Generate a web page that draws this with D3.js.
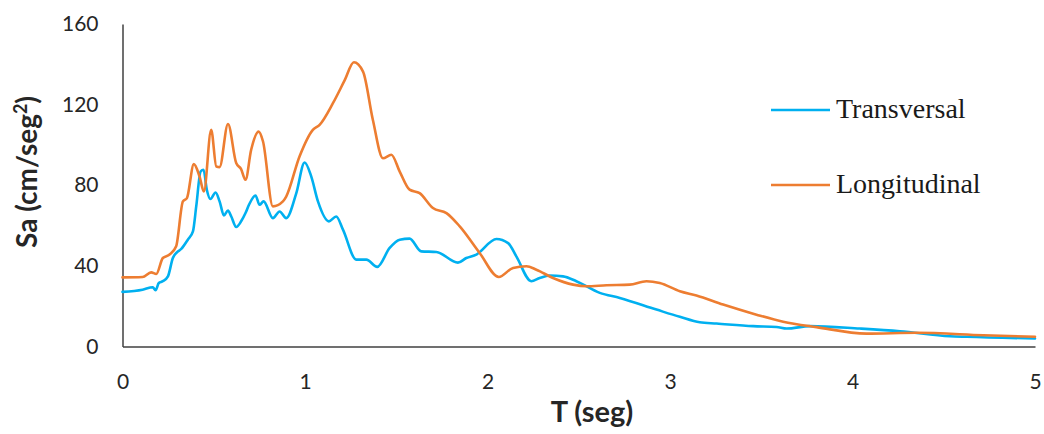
<!DOCTYPE html>
<html>
<head>
<meta charset="utf-8">
<script src="https://cdn.jsdelivr.net/npm/d3@7"></script>
<style>
  html, body { margin: 0; padding: 0; background: #fff; }
  svg { display: block; }
</style>
</head>
<body>
<svg id="chart" width="1044" height="434"></svg>
<script>
// Period (s) and spectral acceleration (cm/s²) for each direction
const transT = [0, 0.11, 0.166, 0.181, 0.199, 0.221, 0.249, 0.276, 0.298, 0.322, 0.358, 0.386, 0.404, 0.428, 0.444, 0.462, 0.482, 0.51, 0.532, 0.556, 0.578, 0.596, 0.623, 0.65, 0.674, 0.693, 0.729, 0.751, 0.773, 0.824, 0.861, 0.897, 0.952, 0.998, 1.034, 1.071, 1.131, 1.171, 1.208, 1.281, 1.336, 1.396, 1.464, 1.519, 1.573, 1.637, 1.72, 1.838, 1.884, 1.939, 2.049, 2.113, 2.158, 2.24, 2.286, 2.341, 2.414, 2.487, 2.615, 2.725, 2.926, 3.054, 3.163, 3.255, 3.456, 3.584, 3.639, 3.766, 4.04, 4.26, 4.534, 4.625, 5.0];
const transSa = [27.1, 28.2, 29.4, 27.9, 31.5, 32.4, 34.8, 43.9, 46.7, 48.4, 53, 57.1, 69.5, 86.8, 87.7, 77.8, 73.2, 76.4, 72, 65, 67.5, 64.5, 59.3, 62.1, 66.2, 70.3, 74.9, 70.3, 72, 63.7, 67, 63.7, 76, 91.3, 84.4, 72, 62.1, 64.5, 58, 43.1, 43.1, 39.5, 48.9, 53, 53.5, 47.2, 46.9, 41.6, 43.9, 45.6, 53.3, 51.3, 44.7, 32.4, 34, 35.2, 34.8, 32.4, 26.6, 24.1, 18.3, 14.7, 12, 11.4, 10.1, 9.7, 8.9, 10.1, 8.9, 7.6, 5.1, 4.8, 4.0];

const longT = [0, 0.11, 0.157, 0.185, 0.221, 0.258, 0.294, 0.331, 0.353, 0.391, 0.422, 0.446, 0.486, 0.514, 0.532, 0.578, 0.623, 0.65, 0.674, 0.705, 0.746, 0.77, 0.824, 0.879, 0.897, 0.97, 1.043, 1.08, 1.153, 1.217, 1.268, 1.318, 1.372, 1.427, 1.473, 1.519, 1.573, 1.628, 1.701, 1.775, 1.848, 1.957, 2.062, 2.14, 2.213, 2.268, 2.359, 2.469, 2.542, 2.652, 2.779, 2.871, 2.944, 3.054, 3.145, 3.291, 3.474, 3.62, 3.803, 4.077, 4.351, 4.717, 5.0];
const longSa = [34.3, 34.5, 36.8, 36, 43.9, 45.6, 49.7, 72, 73.6, 90.5, 84.4, 76.9, 107.5, 89.3, 89, 110.4, 91, 88, 82.7, 97.6, 106.6, 101.7, 69.5, 72, 74.4, 94.3, 107.5, 110, 120.7, 132, 141, 136.4, 112.4, 93.4, 95.1, 86.8, 77.8, 76.1, 68.7, 66.2, 59.6, 46.4, 34.5, 39, 39.8, 38.1, 34, 30.7, 29.9, 30.4, 30.7, 32.4, 31.5, 27.4, 25.3, 20.8, 15.8, 12.3, 9.6, 6.4, 6.8, 5.6, 4.8];

const xTicks = [0, 1, 2, 3, 4, 5];
const yTicks = [0, 40, 80, 120, 160];
const seriesNames = ["Transversal", "Longitudinal"];
const seriesColors = ["#00B0F0", "#ED7D31"];

const svg = d3.select("#chart");
const x = d3.scaleLinear().domain([0, 5]).range([122.5, 1035]);
const y = d3.scaleLinear().domain([0, 160]).range([346.5, 24]);

const sansFont = "Lato, 'Open Sans', sans-serif";
const serifFont = "'Liberation Serif', 'DejaVu Serif', serif";

// Axes (no tick marks, labels only)
const xAxis = d3.axisBottom(x).tickValues(xTicks).tickSize(0).tickPadding(28).tickFormat(d3.format("d"));
const yAxis = d3.axisLeft(y).tickValues(yTicks).tickSize(0).tickPadding(24).tickFormat(d3.format("d"));

const gx = svg.append("g").attr("transform", `translate(0,${y(0)})`).call(xAxis);
const gy = svg.append("g").attr("transform", `translate(${x(0)},0)`).call(yAxis);

[gx, gy].forEach(g => {
  g.select(".domain").attr("stroke", "#404040").attr("stroke-width", 1.5);
  g.selectAll("text")
    .attr("fill", "#262626")
    .style("font-family", sansFont)
    .style("font-size", "21px");
});

// Series lines
const line = d3.line()
  .x(d => x(d[0]))
  .y(d => y(d[1]))
  .curve(d3.curveMonotoneX);

const series = [
  transT.map((t, i) => [t, transSa[i]]),
  longT.map((t, i) => [t, longSa[i]])
];

series.forEach((pts, i) => {
  svg.append("path")
    .datum(pts)
    .attr("fill", "none")
    .attr("stroke", seriesColors[i])
    .attr("stroke-width", 2.6)
    .attr("stroke-linejoin", "round")
    .attr("stroke-linecap", "round")
    .attr("d", line);
});

// Axis titles
svg.append("text")
  .attr("x", 592)
  .attr("y", 422)
  .attr("text-anchor", "middle")
  .attr("fill", "#262626")
  .style("font-family", sansFont)
  .style("font-weight", "bold")
  .style("font-size", "29px")
  .text("T (seg)");

const yTitle = svg.append("text")
  .attr("transform", "translate(37,172) rotate(-90)")
  .attr("text-anchor", "middle")
  .attr("fill", "#262626")
  .style("font-family", sansFont)
  .style("font-weight", "bold")
  .style("font-size", "28px");
yTitle.append("tspan").text("Sa (cm/seg");
yTitle.append("tspan").attr("dy", -10).style("font-size", "18px").text("2");
yTitle.append("tspan").attr("dy", 10).text(")");

// Legend
const legendY = [110, 185];
seriesNames.forEach((name, i) => {
  const g = svg.append("g");
  g.append("line")
    .attr("x1", 771).attr("x2", 830)
    .attr("y1", legendY[i]).attr("y2", legendY[i])
    .attr("stroke", seriesColors[i])
    .attr("stroke-width", 2.6);
  g.append("text")
    .attr("x", 836)
    .attr("y", legendY[i] + 8)
    .attr("fill", "#1a1a1a")
    .style("font-family", serifFont)
    .style("font-size", "28px")
    .text(name);
});
</script>
</body>
</html>
